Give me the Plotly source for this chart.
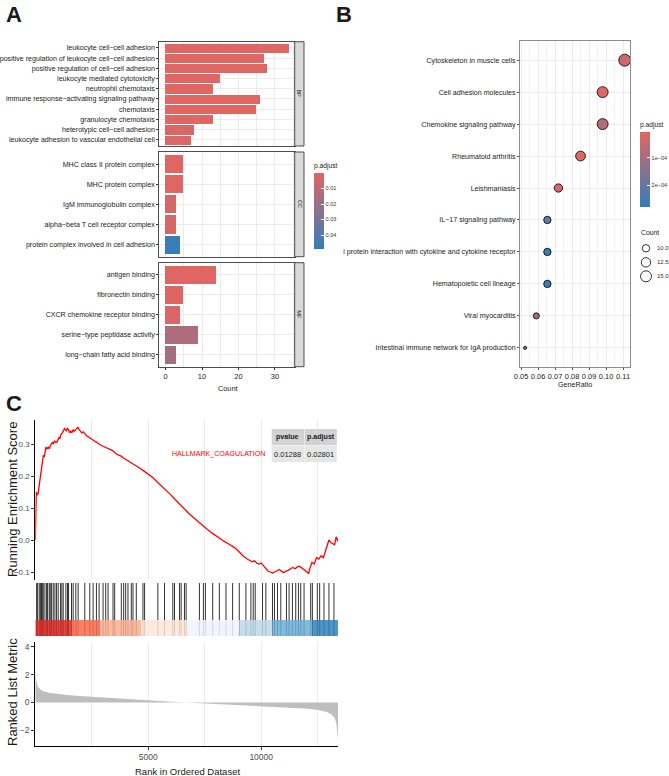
import plotly.graph_objects as go
import math

W, H = 669, 776
FONT = "Liberation Sans, Arial, DejaVu Sans"

# ---------------- Panel A data (GO enrichment) ----------------
bp_terms = ["leukocyte cell\u2212cell adhesion",
            "positive regulation of leukocyte cell\u2212cell adhesion",
            "positive regulation of cell\u2212cell adhesion",
            "leukocyte mediated cytotoxicity",
            "neutrophil chemotaxis",
            "immune response\u2212activating signaling pathway",
            "chemotaxis",
            "granulocyte chemotaxis",
            "heterotypic cell\u2212cell adhesion",
            "leukocyte adhesion to vascular endothelial cell"]
bp_counts = [34, 27, 28, 15, 13, 26, 25, 13, 8, 7]
bp_padj = [1e-5, 2e-5, 2e-5, 3e-4, 5e-4, 3e-5, 5e-5, 5e-4, 1e-3, 1.5e-3]

cc_terms = ["MHC class II protein complex",
            "MHC protein complex",
            "IgM immunoglobulin complex",
            "alpha\u2212beta T cell receptor complex",
            "protein complex involved in cell adhesion"]
cc_counts = [5, 5, 3, 3, 4]
cc_padj = [6e-4, 6e-4, 3.4e-3, 3.4e-3, 0.047]

mf_terms = ["antigen binding",
            "fibronectin binding",
            "CXCR chemokine receptor binding",
            "serine\u2212type peptidase activity",
            "long\u2212chain fatty acid binding"]
mf_counts = [14, 5, 4, 9, 3]
mf_padj = [2e-4, 1e-3, 1e-3, 0.014, 0.017]

count_ticks = [0, 10, 20, 30]
go_padj_ticks = [0.01, 0.02, 0.03, 0.04]
go_padj_labels = ["0.01", "0.02", "0.03", "0.04"]

# ---------------- Panel B data (KEGG dot plot) ----------------
kegg_terms = ["Cytoskeleton in muscle cells",
              "Cell adhesion molecules",
              "Chemokine signaling pathway",
              "Rheumatoid arthritis",
              "Leishmaniasis",
              "IL\u221217 signaling pathway",
              "l protein interaction with cytokine and cytokine receptor",
              "Hematopoietic cell lineage",
              "Viral myocarditis",
              "Intestinal immune network for IgA production"]
kegg_ratio = [0.111, 0.098, 0.098, 0.085, 0.072, 0.0655, 0.0655, 0.0655, 0.059, 0.0524]
kegg_counts = [17, 15, 15, 13, 11, 10, 10, 10, 9, 8]
kegg_padj = [3.5e-5, 1e-5, 7.5e-5, 1e-5, 1.5e-5, 2.0e-4, 2.75e-4, 2.65e-4, 1.15e-4, 9e-5]
kegg_padj_ticks = [1e-4, 2e-4]
kegg_padj_labels = ["1e\u221204", "2e\u221204"]
ratio_ticks = [0.05, 0.06, 0.07, 0.08, 0.09, 0.10, 0.11]
count_legend = [10.0, 12.5, 15.0]

# ---------------- Panel C data (GSEA) ----------------
n_genes = 13400
es_rank = [0, 20, 45, 80, 130, 170, 210, 250, 290, 330, 360, 400, 430, 470, 520, 570, 620, 660,
           700, 760, 800, 850, 900, 950, 1000, 1050, 1090, 1140, 1200, 1250, 1290, 1330, 1380,
           1420, 1470, 1520, 1570, 1620, 1680, 1720, 1780, 1840, 1890, 1940, 2000, 2060, 2120,
           2200, 2280, 2360, 2440, 2520, 2600, 2700, 2800, 2900, 3000, 3100, 3200, 3300, 3400,
           3500, 3600, 3700, 3800, 3900, 4000, 4200, 4400, 4600, 4800, 5000, 5200, 5400, 5600,
           5800, 6000, 6200, 6400, 6600, 6800, 7000, 7200, 7400, 7600, 7800, 8000, 8200, 8400,
           8600, 8800, 9000, 9200, 9400, 9600, 9700, 9800, 9900, 10000, 10100, 10200, 10300,
           10400, 10500, 10600, 10700, 10800, 10900, 11000, 11100, 11200, 11300, 11400, 11500,
           11600, 11700, 11800, 11900, 12000, 12100, 12150, 12250, 12350, 12450, 12550, 12650,
           12750, 12850, 12950, 13000, 13080, 13150, 13250, 13320, 13400]
es_score = [0.0, 0.075, 0.15, 0.14, 0.145, 0.17, 0.19, 0.205, 0.22, 0.245, 0.265, 0.26, 0.275,
            0.29, 0.285, 0.29, 0.285, 0.295, 0.30, 0.305, 0.30, 0.31, 0.305, 0.305, 0.315, 0.32,
            0.318, 0.33, 0.335, 0.34, 0.348, 0.345, 0.34, 0.35, 0.345, 0.335, 0.34, 0.335, 0.345,
            0.34, 0.345, 0.35, 0.352, 0.345, 0.34, 0.335, 0.338, 0.33, 0.325, 0.322, 0.318,
            0.312, 0.31, 0.306, 0.30, 0.296, 0.293, 0.29, 0.285, 0.283, 0.28, 0.275, 0.268,
            0.265, 0.262, 0.256, 0.252, 0.243, 0.236, 0.226, 0.216, 0.206, 0.195, 0.181, 0.168,
            0.156, 0.141, 0.126, 0.111, 0.096, 0.083, 0.070, 0.057, 0.045, 0.034, 0.023, 0.0125,
            0.003, -0.006, -0.014, -0.023, -0.035, -0.05, -0.06, -0.068, -0.065, -0.072, -0.075,
            -0.072, -0.08, -0.09, -0.097, -0.1, -0.103, -0.1, -0.097, -0.092, -0.098, -0.102,
            -0.097, -0.095, -0.09, -0.086, -0.09, -0.084, -0.082, -0.088, -0.095, -0.1, -0.104,
            -0.09, -0.07, -0.075, -0.055, -0.06, -0.05, -0.055, -0.03, -0.01, 0.0, -0.008,
            -0.012, -0.015, 0.01, -0.005]
es_ticks = [-0.1, 0.0, 0.1, 0.2, 0.3]
es_tick_labels = ["\u22120.1", "0.0", "0.1", "0.2", "0.3"]

hit_ranks = [59, 103, 176, 235, 279, 309, 353, 426, 500, 544, 618, 662, 721, 794, 868, 941, 1015,
             1118, 1176, 1235, 1353, 1426, 1471, 1603, 1676, 1794, 1897, 2191, 2412, 2559, 2706,
             2824, 3000, 3118, 3221, 3441, 3515, 3809, 3912, 4000, 4103, 4250, 4324, 4471, 4765,
             4838, 5426, 5721, 6088, 6162, 6382, 6456, 6603, 6676, 7265, 7441, 7529, 7853, 8147,
             8441, 8735, 9029, 9324, 9544, 9647, 9735, 10059, 10206, 10500, 10588, 10721, 10868,
             11118, 11235, 11382, 11529, 11647, 11750, 11897, 12191, 12265, 12485, 12588, 12779,
             13000, 13221]

band_edges = [0, 1603, 2853, 4691, 6750, 9029, 10500, 12265, 13400]
band_colors = ["#DE2D26", "#FB6A4A", "#FCAE91", "#FEE5D9", "#EFF3FF", "#BDD7E7", "#6BAED6", "#3182BD"]

metric_rank = [0, 10, 40, 80, 130, 250, 400, 600, 900, 1300, 1800, 2500, 3200, 4000, 4800, 5500,
               6200, 6700, 7300, 8000, 8700, 9400, 10100, 10800, 11500, 12100, 12600, 12900, 13100,
               13250, 13330, 13370, 13390, 13400]
metric_val = [2.3, 2.0, 1.6, 1.3, 1.1, 0.9, 0.78, 0.7, 0.63, 0.55, 0.48, 0.4, 0.33, 0.26, 0.18, 0.1,
              0.04, 0.0, -0.06, -0.11, -0.15, -0.2, -0.25, -0.31, -0.37, -0.45, -0.56, -0.68, -0.85,
              -1.1, -1.5, -2.0, -2.5, -2.9]
metric_ticks = [-2, 0, 2, 4]
metric_tick_labels = ["\u22122", "0", "2", "4"]
rank_ticks = [5000, 10000]

table_cols = ["pvalue", "p.adjust"]
table_vals = ["0.01288", "0.02801"]
gene_set = "HALLMARK_COAGULATION"

# ---------------- helpers ----------------
def fx(px):
    return px / W

def fy(py):
    return 1 - py / H

LOW, HIGH = "#e06663", "#327eba"
# colour values are negated so that low p.adjust (red) sits at the top of the bar, as in ggplot
CSCALE = [[0, HIGH], [1, LOW]]
GRID = "#EBEBEB"
DARK = "#1A1A1A"

def ann(text, x, y, size, color=DARK, angle=0, xanchor="center"):
    return dict(text=text, xref="paper", yref="paper", x=fx(x), y=fy(y), showarrow=False,
                xanchor=xanchor, yanchor="middle", textangle=angle,
                font=dict(family=FONT, size=size, color=color))

fig = go.Figure()

# ---- Panel A bars ----
for i, (terms, counts, padj) in enumerate([(bp_terms, bp_counts, bp_padj),
                                           (cc_terms, cc_counts, cc_padj),
                                           (mf_terms, mf_counts, mf_padj)]):
    ax = "" if i == 0 else str(i + 1)
    fig.add_trace(go.Bar(x=counts, y=terms, orientation="h", width=0.9,
                         marker=dict(color=[-p for p in padj], coloraxis="coloraxis",
                                     line=dict(width=0)),
                         xaxis="x" + ax, yaxis="y" + ax, showlegend=False))

# ---- Panel B dots ----
cmin_c, cmax_c = min(kegg_counts), max(kegg_counts)

def dot_diam(c):
    s = 1 + 5 * math.sqrt(max(c - cmin_c, 0) / (cmax_c - cmin_c))
    return 1.5 + 1.75 * s

fig.add_trace(go.Scatter(x=kegg_ratio, y=kegg_terms, mode="markers",
                         marker=dict(size=[dot_diam(c) for c in kegg_counts],
                                     color=[-p for p in kegg_padj],
                                     coloraxis="coloraxis2", line=dict(color="black", width=0.8),
                                     opacity=1),
                         xaxis="x4", yaxis="y4", showlegend=False))

# ---- Panel C ----
fig.add_trace(go.Scatter(x=es_rank, y=es_score, mode="lines",
                         line=dict(color="#FF0000", width=1.3),
                         xaxis="x5", yaxis="y5", showlegend=False))

hx, hy = [], []
for r in hit_ranks:
    hx += [r, r, None]
    hy += [0, 1, None]
fig.add_trace(go.Scatter(x=hx, y=hy, mode="lines", line=dict(color="rgba(0,0,0,0.8)", width=1),
                         xaxis="x6", yaxis="y6", showlegend=False))

fig.add_trace(go.Scatter(x=metric_rank, y=metric_val, mode="lines", fill="tozeroy",
                         fillcolor="#BEBEBE", line=dict(width=0, color="#BEBEBE"),
                         xaxis="x7", yaxis="y7", showlegend=False))

shapes = []
annotations = []

for i in range(len(band_colors)):
    shapes.append(dict(type="rect", xref="x6", yref="y6", x0=band_edges[i], x1=band_edges[i + 1],
                       y0=0, y1=0.3, fillcolor=band_colors[i], line=dict(width=0),
                       opacity=0.85, layer="above"))

# ---- axes layout ----
LABEL = 7.1
A_x = [159.3, 294.7]
A_panels = [(41.7, 146, bp_terms), (152, 256.7, cc_terms), (262.7, 366.7, mf_terms)]
layout = dict(width=W, height=H, margin=dict(l=0, r=0, t=0, b=0, pad=0, autoexpand=False),
              paper_bgcolor="white", plot_bgcolor="white", showlegend=False, bargap=0)

for i, (top, bot, terms) in enumerate(A_panels):
    ax = "" if i == 0 else str(i + 1)
    n = len(terms)
    layout["xaxis" + ax] = dict(domain=[fx(A_x[0]), fx(A_x[1])], anchor="y" + ax,
                                range=[-1.7, 35.4], showgrid=True, gridcolor=GRID, gridwidth=1,
                                tickmode="array", tickvals=count_ticks, tickangle=0,
                                minor=dict(dtick=5, tick0=0, showgrid=True, gridcolor=GRID, gridwidth=0.6),
                                showline=True, mirror=True, linecolor="#4D4D4D", linewidth=1,
                                zeroline=False, showticklabels=(i == 2),
                                ticks="outside" if i == 2 else "", ticklen=2, tickcolor="#333333",
                                tickfont=dict(family=FONT, size=7.5, color=DARK))
    layout["yaxis" + ax] = dict(domain=[fy(bot), fy(top)], anchor="x" + ax, type="category",
                                categoryorder="array", categoryarray=terms,
                                tickmode="array", tickvals=terms, ticktext=terms,
                                range=[n - 0.4, -0.6], showgrid=True, gridcolor=GRID,
                                showline=True, mirror=True, linecolor="#4D4D4D", linewidth=1,
                                zeroline=False, ticks="outside", ticklen=2, tickcolor="#333333",
                                tickfont=dict(family=FONT, size=LABEL, color=DARK))
    shapes.append(dict(type="rect", xref="paper", yref="paper", x0=fx(294.7), x1=fx(304),
                       y0=fy(bot), y1=fy(top), fillcolor="#D9D9D9",
                       line=dict(color="#4D4D4D", width=1)))
    annotations.append(ann(["BP", "CC", "MF"][i], 299.4, (top + bot) / 2, 5.5, angle=90))

# Panel B axes
layout["xaxis4"] = dict(domain=[fx(520), fx(630)], anchor="y4", range=[0.0494, 0.1141],
                        tickmode="array", tickvals=ratio_ticks,
                        ticktext=[f"{t:.2f}" for t in ratio_ticks], tickangle=0,
                        showgrid=True, gridcolor=GRID,
                        minor=dict(dtick=0.005, tick0=0.045, showgrid=True, gridcolor="#F2F2F2"),
                        showline=True, mirror=True, linecolor="#8C8C8C", linewidth=1, zeroline=False,
                        ticks="outside", ticklen=2, tickcolor="#555555",
                        tickfont=dict(family=FONT, size=7.5, color=DARK))
layout["yaxis4"] = dict(domain=[fy(367), fy(41)], anchor="x4", type="category",
                        categoryorder="array", categoryarray=kegg_terms,
                        tickmode="array", tickvals=kegg_terms, ticktext=kegg_terms,
                        range=[len(kegg_terms) - 0.4, -0.6], showgrid=True, gridcolor=GRID,
                        showline=True, mirror=True, linecolor="#8C8C8C", linewidth=1, zeroline=False,
                        ticks="outside", ticklen=2, tickcolor="#555555",
                        tickfont=dict(family=FONT, size=LABEL, color=DARK))

# Panel C axes
Cx = [fx(35.3), fx(338)]
cgrid_minor = dict(dtick=2500, tick0=0, showgrid=True, gridcolor=GRID, gridwidth=1)
layout["xaxis5"] = dict(domain=Cx, anchor="y5", range=[0, n_genes], tickmode="array",
                        tickvals=rank_ticks, showgrid=True, gridcolor=GRID, minor=cgrid_minor,
                        showticklabels=False, ticks="", showline=False, zeroline=False)
layout["yaxis5"] = dict(domain=[fy(580), fy(420)], anchor="x5", range=[-0.125, 0.375],
                        tickmode="array", tickvals=es_ticks, ticktext=es_tick_labels,
                        showgrid=False, zeroline=False, showline=True, linecolor="black",
                        linewidth=1, ticks="outside", ticklen=3, tickcolor="#333333",
                        tickfont=dict(family=FONT, size=8, color="#4D4D4D"))
layout["xaxis6"] = dict(domain=Cx, anchor="y6", range=[0, n_genes], showgrid=False,
                        showticklabels=False, ticks="", zeroline=False, showline=False)
layout["yaxis6"] = dict(domain=[fy(636), fy(583)], anchor="x6", range=[0, 1], showgrid=False,
                        showticklabels=False, ticks="", zeroline=False, showline=False)
layout["xaxis7"] = dict(domain=Cx, anchor="y7", range=[0, n_genes], tickmode="array",
                        tickvals=rank_ticks, ticktext=[str(t) for t in rank_ticks], tickangle=0,
                        showgrid=True, gridcolor=GRID, minor=cgrid_minor, zeroline=False,
                        showline=True, linecolor="black", linewidth=1, ticks="outside",
                        ticklen=3, tickcolor="#333333",
                        tickfont=dict(family=FONT, size=8.5, color="#4D4D4D"))
layout["yaxis7"] = dict(domain=[fy(746), fy(642)], anchor="x7", range=[-3.12, 4.33],
                        tickmode="array", tickvals=metric_ticks, ticktext=metric_tick_labels,
                        showgrid=False, zeroline=False, showline=True, linecolor="black",
                        linewidth=1, ticks="outside", ticklen=3, tickcolor="#333333",
                        tickfont=dict(family=FONT, size=8.5, color="#4D4D4D"))

# color axes (values negated -> low p.adjust at top)
def cbar(x_px, top_px, length, tickvals, ticktext):
    return dict(x=fx(x_px), xanchor="left", y=fy(top_px), yanchor="top",
                len=length, lenmode="pixels", thickness=10, thicknessmode="pixels",
                xpad=0, ypad=0, outlinewidth=0, tickmode="array",
                tickvals=[-t for t in tickvals], ticktext=ticktext,
                ticks="inside", ticklen=3, tickcolor="white",
                tickfont=dict(family=FONT, size=5.5, color="#333333"),
                title=dict(text="p.adjust", side="top",
                           font=dict(family=FONT, size=6.7, color=DARK)))

layout["coloraxis"] = dict(colorscale=CSCALE, cmin=-0.049, cmax=0,
                           colorbar=cbar(314, 160, 89, go_padj_ticks, go_padj_labels))
layout["coloraxis2"] = dict(colorscale=CSCALE, cmin=-2.78e-4, cmax=-7e-6,
                            colorbar=cbar(640, 119, 88, kegg_padj_ticks, kegg_padj_labels))

# Count legend (panel B)
annotations.append(ann("Count", 639, 232, 6.8, xanchor="left"))
for j, c in enumerate(count_legend):
    cy = 248.3 + 14 * j
    d = dot_diam(c)
    shapes.append(dict(type="circle", xref="paper", yref="paper",
                       x0=fx(646 - d / 2), x1=fx(646 + d / 2), y0=fy(cy + d / 2), y1=fy(cy - d / 2),
                       line=dict(color="black", width=0.8), fillcolor="white"))
    annotations.append(ann(f"{c:.1f}", 655, cy, 6, color="#333333", xanchor="left"))

# axis titles
annotations += [
    ann("Count", 227, 388, 7.3),
    ann("GeneRatio", 575, 384, 7.2),
    ann("Running Enrichment Score", 12, 500, 13, angle=-90),
    ann("Ranked List Metric", 12, 692, 13, angle=-90),
    ann("Rank in Ordered Dataset", 187, 771, 9.5),
]

# panel letters
for letter, px_, py_ in [("A", 14, 14), ("B", 344, 14), ("C", 14, 403)]:
    annotations.append(ann("<b>" + letter + "</b>", px_, py_, 22))

# GSEA table
cells_x = [(271.7, 304.2), (304.7, 336.8)]
for k in range(2):
    x0, x1 = cells_x[k]
    shapes.append(dict(type="rect", xref="paper", yref="paper", x0=fx(x0), x1=fx(x1),
                       y0=fy(445), y1=fy(429), fillcolor="#D2D2D2", line=dict(width=0)))
    shapes.append(dict(type="rect", xref="paper", yref="paper", x0=fx(x0), x1=fx(x1),
                       y0=fy(462), y1=fy(445.6), fillcolor="#E6E6E6", line=dict(width=0)))
    annotations.append(ann("<b>" + table_cols[k] + "</b>", (x0 + x1) / 2, 437.3, 7.1))
    annotations.append(ann(table_vals[k], (x0 + x1) / 2, 454, 7.5))
annotations.append(ann(gene_set, 266.5, 454, 7.1, color="#FF0000", xanchor="right"))

layout["shapes"] = shapes
layout["annotations"] = annotations
fig.update_layout(**layout)
fig.write_html("out.html")
